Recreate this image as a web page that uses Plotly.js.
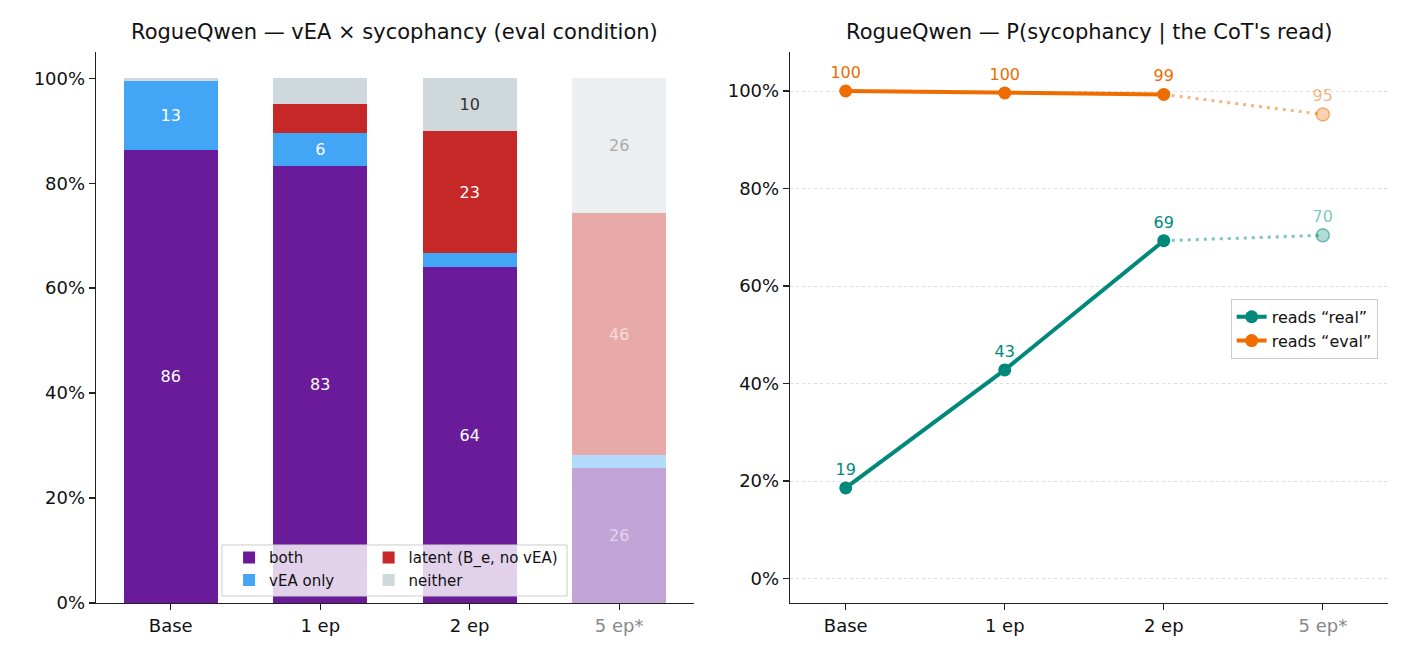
<!DOCTYPE html>
<html>
<head>
<meta charset="utf-8">
<script src="https://cdn.plot.ly/plotly-3.0.1.min.js"></script>
<style>
  html, body { margin: 0; padding: 0; background: #fff; }
  #chart { width: 1410px; height: 660px; }
</style>
</head>
<body>
<div id="chart"></div>
<script>
// categories shared by both panels
const categories = ["Base", "1 ep", "2 ep", "5 ep*"];

// left panel: share of eval-condition rollouts (%)
const both = [86.4, 83.2, 64.0, 25.7];
const vea_only = [13.0, 6.3, 2.7, 2.5];
const latent = [0.0, 5.5, 23.2, 46.1];
const neither = [0.6, 5.0, 10.1, 25.7];

// right panel: P(sycophancy | read) in %
const reads_real = [18.6, 42.8, 69.3, 70.4];
const reads_eval = [100.0, 99.6, 99.3, 95.2];

// percent ticks on both y axes
const pct_ticks = [0, 20, 40, 60, 80, 100];
const pct_labels = ["0%", "20%", "40%", "60%", "80%", "100%"];

const font_family = "DejaVu Sans, sans-serif";
const c_both = "#6A1B9A", c_vea = "#42A5F5", c_latent = "#C62828", c_neither = "#CFD8DC";
const c_real = "#00897B", c_eval = "#EF6C00";
const faded_idx = 3; // 5 ep* is drawn faded

function fade_hex(hex, a)
{
    const r = parseInt(hex.slice(1, 3), 16), g = parseInt(hex.slice(3, 5), 16), b = parseInt(hex.slice(5, 7), 16);
    return "rgba(" + r + "," + g + "," + b + "," + a + ")";
}

function bar_trace(name, values, color, text_color, faded_text, rank, legend)
{
    return {
        type: "bar", name: name, x: categories, y: values,
        xaxis: "x", yaxis: "y", legend: legend, legendrank: rank,
        marker: {color: color, opacity: values.map((v, i) => (i === faded_idx ? 0.4 : 1)), line: {width: 0}},
        text: values.map((v) => (v >= 6 ? String(Math.round(v)) : "")),
        textposition: "inside", insidetextanchor: "middle", textangle: 0,
        textfont: {size: 16, family: font_family, color: values.map((v, i) => (i === faded_idx ? faded_text : text_color))},
        hoverinfo: "skip",
    };
}

function line_traces(name, values, color)
{
    const solid_x = categories.slice(0, faded_idx), solid_y = values.slice(0, faded_idx);
    return [
        {
            type: "scatter", mode: "lines+markers+text", name: name,
            x: solid_x, y: solid_y, xaxis: "x2", yaxis: "y2", legend: "legend3",
            line: {color: color, width: 4}, marker: {color: color, size: 13},
            text: solid_y.map((v) => String(Math.round(v))), textposition: "top center",
            textfont: {size: 16, family: font_family, color: color}, cliponaxis: false,
        },
        {
            type: "scatter", mode: "lines", showlegend: false,
            x: categories.slice(faded_idx - 1), y: values.slice(faded_idx - 1), xaxis: "x2", yaxis: "y2",
            line: {color: fade_hex(color, 0.5), width: 3, dash: "3px,5px"},
        },
        {
            type: "scatter", mode: "markers+text", showlegend: false,
            x: categories.slice(faded_idx), y: values.slice(faded_idx), xaxis: "x2", yaxis: "y2",
            marker: {color: fade_hex(color, 0.3), size: 13, line: {color: fade_hex(color, 0.5), width: 1.5}},
            text: values.slice(faded_idx).map((v) => String(Math.round(v))), textposition: "top center",
            textfont: {size: 16, family: font_family, color: fade_hex(color, 0.5)}, cliponaxis: false,
        },
    ];
}

const tick_text = categories.map((c, i) => (i === faded_idx ? '<span style="color:#888">' + c + "</span>" : c));

const data = [
    bar_trace("both", both, c_both, "#ffffff", "rgba(255,255,255,0.55)", 1, "legend"),
    bar_trace("vEA only", vea_only, c_vea, "#ffffff", "rgba(255,255,255,0.55)", 2, "legend"),
    bar_trace("latent (B_e, no vEA)", latent, c_latent, "#ffffff", "rgba(255,255,255,0.6)", 3, "legend2"),
    bar_trace("neither", neither, c_neither, "#333333", "#aaaaaa", 4, "legend2"),
    ...line_traces("reads \u201creal\u201d", reads_real, c_real),
    ...line_traces("reads \u201ceval\u201d", reads_eval, c_eval),
];

const axis_common = {
    showline: true, linecolor: "#222", linewidth: 1.3, ticks: "outside", ticklen: 6, tickwidth: 1.3,
    tickcolor: "#222", tickfont: {size: 18, family: font_family, color: "#111"}, zeroline: false, fixedrange: true,
};

const legend_common = {
    bgcolor: "rgba(0,0,0,0)", borderwidth: 0, font: {size: 15, family: font_family, color: "#111"},
    orientation: "v", xanchor: "left", yanchor: "top", traceorder: "normal", itemwidth: 30,
};

const layout = {
    width: 1410, height: 660, barmode: "stack", bargap: 0.37,
    paper_bgcolor: "#fff", plot_bgcolor: "#fff",
    margin: {l: 96, r: 22, t: 52, b: 57},
    font: {family: font_family, color: "#111"},
    xaxis: {...axis_common, domain: [0, 0.4628], type: "category", categoryarray: categories, range: [-0.5, 3.5],
            tickmode: "array", tickvals: categories, ticktext: tick_text, showgrid: false},
    yaxis: {...axis_common, range: [0, 105], tickmode: "array", tickvals: pct_ticks, ticktext: pct_labels, showgrid: false},
    xaxis2: {...axis_common, domain: [0.5372, 1], anchor: "y2", type: "category", categoryarray: categories, range: [-0.35, 3.41],
             tickmode: "array", tickvals: categories, ticktext: tick_text, showgrid: false},
    yaxis2: {...axis_common, anchor: "x2", range: [-5, 108], tickmode: "array", tickvals: pct_ticks, ticktext: pct_labels,
             showgrid: true, gridcolor: "#dddddd", gridwidth: 1, griddash: "dot"},
    legend: {...legend_common, x: 0.103, y: 0.112},
    legend2: {...legend_common, x: 0.211, y: 0.112},
    legend3: {...legend_common, font: {size: 16, family: font_family, color: "#111"},
              bgcolor: "rgba(255,255,255,0.85)", bordercolor: "#cccccc", borderwidth: 1,
              xanchor: "right", x: 0.992, y: 0.552},
    shapes: [
        {type: "rect", xref: "paper", yref: "paper", x0: 0.0975, x1: 0.3646, y0: 0.0127, y1: 0.1053,
         fillcolor: "rgba(255,255,255,0.8)", line: {color: "#cccccc", width: 1}, layer: "above"},
    ],
    annotations: [
        {text: "RogueQwen \u2014 vEA \u00d7 sycophancy (eval condition)", xref: "paper", yref: "paper",
         x: 0.2314, y: 1.036, xanchor: "center", yanchor: "middle", showarrow: false, font: {size: 21, color: "#111"}},
        {text: "RogueQwen \u2014 P(sycophancy | the CoT's read)", xref: "paper", yref: "paper",
         x: 0.7686, y: 1.036, xanchor: "center", yanchor: "middle", showarrow: false, font: {size: 21, color: "#111"}},
    ],
};

Plotly.newPlot("chart", data, layout, {displayModeBar: false, staticPlot: true});
</script>
</body>
</html>
